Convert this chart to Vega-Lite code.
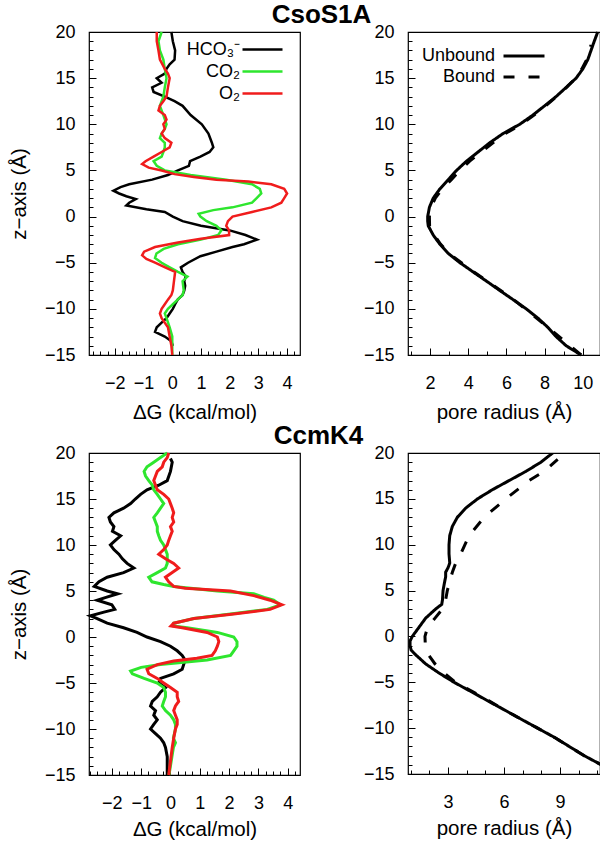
{
  "$schema": "https://vega.github.io/schema/vega-lite/v6.json",
  "background": "white",
  "padding": {"left": 8, "top": 1, "right": 0, "bottom": 0},
  "columns": 2,
  "spacing": {"row": 98, "column": 108},
  "bounds": "flush",
  "datasets": {
    "csoG": [
      {"s":"HCO₃⁻","z":-14,"g":0.02},{"s":"HCO₃⁻","z":-13.5,"g":-0.03},{"s":"HCO₃⁻","z":-13,"g":-0.26},{"s":"HCO₃⁻","z":-12.5,"g":-0.6},{"s":"HCO₃⁻","z":-12,"g":-0.54},{"s":"HCO₃⁻","z":-11.5,"g":-0.37},{"s":"HCO₃⁻","z":-11,"g":-0.2},{"s":"HCO₃⁻","z":-10.5,"g":-0.09},{"s":"HCO₃⁻","z":-10,"g":0.02},{"s":"HCO₃⁻","z":-9.5,"g":0.1},{"s":"HCO₃⁻","z":-9,"g":0.19},{"s":"HCO₃⁻","z":-8.5,"g":0.36},{"s":"HCO₃⁻","z":-8,"g":0.42},{"s":"HCO₃⁻","z":-7.5,"g":0.45},{"s":"HCO₃⁻","z":-7,"g":0.42},{"s":"HCO₃⁻","z":-6.5,"g":0.47},{"s":"HCO₃⁻","z":-6,"g":0.36},{"s":"HCO₃⁻","z":-5.5,"g":0.3},{"s":"HCO₃⁻","z":-5,"g":0.55},{"s":"HCO₃⁻","z":-4.3,"g":0.98},{"s":"HCO₃⁻","z":-3.8,"g":1.54},{"s":"HCO₃⁻","z":-3.3,"g":2.1},{"s":"HCO₃⁻","z":-3,"g":2.5},{"s":"HCO₃⁻","z":-2.5,"g":2.95},{"s":"HCO₃⁻","z":-2,"g":2.55},{"s":"HCO₃⁻","z":-1.5,"g":2.0},{"s":"HCO₃⁻","z":-1,"g":1.0},{"s":"HCO₃⁻","z":-0.5,"g":0.36},{"s":"HCO₃⁻","z":0,"g":0.02},{"s":"HCO₃⁻","z":0.5,"g":-0.26},{"s":"HCO₃⁻","z":0.8,"g":-0.9},{"s":"HCO₃⁻","z":1.2,"g":-1.6},{"s":"HCO₃⁻","z":1.5,"g":-1.5},{"s":"HCO₃⁻","z":1.9,"g":-1.27},{"s":"HCO₃⁻","z":2.2,"g":-1.6},{"s":"HCO₃⁻","z":2.5,"g":-1.85},{"s":"HCO₃⁻","z":2.8,"g":-2.05},{"s":"HCO₃⁻","z":3.2,"g":-1.8},{"s":"HCO₃⁻","z":3.5,"g":-1.5},{"s":"HCO₃⁻","z":4,"g":-0.7},{"s":"HCO₃⁻","z":4.5,"g":-0.15},{"s":"HCO₃⁻","z":5,"g":0.2},{"s":"HCO₃⁻","z":5.5,"g":0.58},{"s":"HCO₃⁻","z":6,"g":0.62},{"s":"HCO₃⁻","z":6.5,"g":0.98},{"s":"HCO₃⁻","z":7,"g":1.3},{"s":"HCO₃⁻","z":7.5,"g":1.43},{"s":"HCO₃⁻","z":8,"g":1.38},{"s":"HCO₃⁻","z":9,"g":1.26},{"s":"HCO₃⁻","z":10,"g":1.03},{"s":"HCO₃⁻","z":11,"g":0.64},{"s":"HCO₃⁻","z":12,"g":0.36},{"s":"HCO₃⁻","z":12.5,"g":0.08},{"s":"HCO₃⁻","z":13,"g":-0.26},{"s":"HCO₃⁻","z":13.5,"g":-0.65},{"s":"HCO₃⁻","z":14,"g":-0.7},{"s":"HCO₃⁻","z":14.5,"g":-0.37},{"s":"HCO₃⁻","z":15,"g":-0.54},{"s":"HCO₃⁻","z":15.5,"g":-0.26},{"s":"HCO₃⁻","z":16,"g":-0.2},{"s":"HCO₃⁻","z":16.5,"g":-0.09},{"s":"HCO₃⁻","z":17,"g":0.08},{"s":"HCO₃⁻","z":18,"g":0.1},{"s":"HCO₃⁻","z":19,"g":0.02},{"s":"HCO₃⁻","z":20,"g":-0.03},
      {"s":"CO₂","z":-15,"g":0},{"s":"CO₂","z":-14,"g":0},{"s":"CO₂","z":-13,"g":0},{"s":"CO₂","z":-12,"g":-0.09},{"s":"CO₂","z":-11,"g":-0.2},{"s":"CO₂","z":-10.5,"g":-0.26},{"s":"CO₂","z":-10,"g":-0.15},{"s":"CO₂","z":-9.5,"g":0.02},{"s":"CO₂","z":-9,"g":0.19},{"s":"CO₂","z":-8.5,"g":0.36},{"s":"CO₂","z":-8,"g":0.4},{"s":"CO₂","z":-7,"g":0.36},{"s":"CO₂","z":-6.5,"g":0.53},{"s":"CO₂","z":-6,"g":0.2},{"s":"CO₂","z":-5.5,"g":-0.09},{"s":"CO₂","z":-5,"g":-0.37},{"s":"CO₂","z":-4.5,"g":-0.6},{"s":"CO₂","z":-4,"g":-0.55},{"s":"CO₂","z":-3.5,"g":-0.3},{"s":"CO₂","z":-3,"g":0.2},{"s":"CO₂","z":-2.5,"g":1.0},{"s":"CO₂","z":-2,"g":1.6},{"s":"CO₂","z":-1.5,"g":1.71},{"s":"CO₂","z":-1,"g":1.54},{"s":"CO₂","z":-0.5,"g":1.2},{"s":"CO₂","z":0,"g":0.98},{"s":"CO₂","z":0.3,"g":0.92},{"s":"CO₂","z":0.7,"g":1.43},{"s":"CO₂","z":1,"g":2.1},{"s":"CO₂","z":1.5,"g":2.78},{"s":"CO₂","z":2,"g":2.94},{"s":"CO₂","z":2.5,"g":3.1},{"s":"CO₂","z":3,"g":3.05},{"s":"CO₂","z":3.5,"g":2.78},{"s":"CO₂","z":4,"g":1.88},{"s":"CO₂","z":4.5,"g":0.64},{"s":"CO₂","z":5,"g":-0.26},{"s":"CO₂","z":5.5,"g":-0.54},{"s":"CO₂","z":6,"g":-0.65},{"s":"CO₂","z":6.5,"g":-0.37},{"s":"CO₂","z":7,"g":-0.31},{"s":"CO₂","z":7.5,"g":-0.26},{"s":"CO₂","z":8,"g":-0.26},{"s":"CO₂","z":8.5,"g":-0.43},{"s":"CO₂","z":9,"g":-0.37},{"s":"CO₂","z":9.5,"g":-0.26},{"s":"CO₂","z":10,"g":-0.2},{"s":"CO₂","z":11,"g":-0.31},{"s":"CO₂","z":12,"g":-0.43},{"s":"CO₂","z":13,"g":-0.31},{"s":"CO₂","z":14,"g":-0.26},{"s":"CO₂","z":15,"g":-0.2},{"s":"CO₂","z":16,"g":-0.26},{"s":"CO₂","z":17,"g":-0.31},{"s":"CO₂","z":18,"g":-0.43},{"s":"CO₂","z":19,"g":-0.48},{"s":"CO₂","z":20,"g":-0.37},
      {"s":"O₂","z":-15,"g":0},{"s":"O₂","z":-14,"g":-0.03},{"s":"O₂","z":-13,"g":-0.09},{"s":"O₂","z":-12,"g":-0.15},{"s":"O₂","z":-11,"g":-0.37},{"s":"O₂","z":-10.5,"g":-0.43},{"s":"O₂","z":-10,"g":-0.37},{"s":"O₂","z":-9.5,"g":-0.26},{"s":"O₂","z":-9,"g":-0.15},{"s":"O₂","z":-8.5,"g":-0.03},{"s":"O₂","z":-8,"g":0.02},{"s":"O₂","z":-7,"g":0.06},{"s":"O₂","z":-6.5,"g":0.08},{"s":"O₂","z":-6,"g":0.1},{"s":"O₂","z":-5.5,"g":-0.25},{"s":"O₂","z":-5,"g":-0.6},{"s":"O₂","z":-4.6,"g":-0.9},{"s":"O₂","z":-4.2,"g":-1.05},{"s":"O₂","z":-3.8,"g":-0.98},{"s":"O₂","z":-3.3,"g":-0.6},{"s":"O₂","z":-2.8,"g":0.2},{"s":"O₂","z":-2.4,"g":1.0},{"s":"O₂","z":-2,"g":1.98},{"s":"O₂","z":-1.5,"g":1.98},{"s":"O₂","z":-1,"g":1.88},{"s":"O₂","z":-0.5,"g":1.94},{"s":"O₂","z":0,"g":2.1},{"s":"O₂","z":0.5,"g":2.78},{"s":"O₂","z":1,"g":3.45},{"s":"O₂","z":1.5,"g":3.8},{"s":"O₂","z":2,"g":3.9},{"s":"O₂","z":2.5,"g":4.0},{"s":"O₂","z":3,"g":3.9},{"s":"O₂","z":3.5,"g":3.45},{"s":"O₂","z":3.8,"g":2.65},{"s":"O₂","z":4,"g":1.54},{"s":"O₂","z":4.3,"g":0.75},{"s":"O₂","z":4.6,"g":0.08},{"s":"O₂","z":5,"g":-0.37},{"s":"O₂","z":5.3,"g":-0.82},{"s":"O₂","z":5.7,"g":-1.05},{"s":"O₂","z":6,"g":-0.93},{"s":"O₂","z":6.5,"g":-0.65},{"s":"O₂","z":7,"g":-0.37},{"s":"O₂","z":7.5,"g":-0.09},{"s":"O₂","z":8,"g":-0.03},{"s":"O₂","z":8.5,"g":-0.26},{"s":"O₂","z":9,"g":-0.37},{"s":"O₂","z":9.5,"g":-0.26},{"s":"O₂","z":10,"g":-0.31},{"s":"O₂","z":10.5,"g":-0.2},{"s":"O₂","z":11,"g":-0.26},{"s":"O₂","z":11.5,"g":-0.48},{"s":"O₂","z":12,"g":-0.43},{"s":"O₂","z":12.5,"g":-0.31},{"s":"O₂","z":13,"g":-0.2},{"s":"O₂","z":14,"g":-0.15},{"s":"O₂","z":15,"g":-0.09},{"s":"O₂","z":15.5,"g":-0.15},{"s":"O₂","z":16,"g":-0.26},{"s":"O₂","z":17,"g":-0.43},{"s":"O₂","z":18,"g":-0.48},{"s":"O₂","z":19,"g":-0.54},{"s":"O₂","z":20,"g":-0.54}
    ],
    "ccmG": [
      {"s":"HCO₃⁻","z":-15,"g":-0.11},{"s":"HCO₃⁻","z":-14,"g":-0.11},{"s":"HCO₃⁻","z":-13,"g":-0.11},{"s":"HCO₃⁻","z":-12,"g":-0.17},{"s":"HCO₃⁻","z":-11.5,"g":-0.23},{"s":"HCO₃⁻","z":-11,"g":-0.34},{"s":"HCO₃⁻","z":-10.5,"g":-0.51},{"s":"HCO₃⁻","z":-10,"g":-0.68},{"s":"HCO₃⁻","z":-9.5,"g":-0.57},{"s":"HCO₃⁻","z":-9,"g":-0.45},{"s":"HCO₃⁻","z":-8.5,"g":-0.57},{"s":"HCO₃⁻","z":-8,"g":-0.51},{"s":"HCO₃⁻","z":-7.5,"g":-0.68},{"s":"HCO₃⁻","z":-7,"g":-0.62},{"s":"HCO₃⁻","z":-6.5,"g":-0.45},{"s":"HCO₃⁻","z":-6,"g":-0.34},{"s":"HCO₃⁻","z":-5.5,"g":-0.17},{"s":"HCO₃⁻","z":-5,"g":-0.4},{"s":"HCO₃⁻","z":-4.5,"g":-0.34},{"s":"HCO₃⁻","z":-4,"g":0.11},{"s":"HCO₃⁻","z":-3.5,"g":0.4},{"s":"HCO₃⁻","z":-3,"g":0.45},{"s":"HCO₃⁻","z":-2.5,"g":0.5},{"s":"HCO₃⁻","z":-2,"g":0.4},{"s":"HCO₃⁻","z":-1.5,"g":0.23},{"s":"HCO₃⁻","z":-1,"g":0},{"s":"HCO₃⁻","z":-0.5,"g":-0.34},{"s":"HCO₃⁻","z":0,"g":-0.8},{"s":"HCO₃⁻","z":0.5,"g":-1.14},{"s":"HCO₃⁻","z":1,"g":-1.6},{"s":"HCO₃⁻","z":1.5,"g":-2.16},{"s":"HCO₃⁻","z":2,"g":-2.5},{"s":"HCO₃⁻","z":2.3,"g":-2.73},{"s":"HCO₃⁻","z":2.7,"g":-2.27},{"s":"HCO₃⁻","z":3,"g":-1.9},{"s":"HCO₃⁻","z":3.5,"g":-2.0},{"s":"HCO₃⁻","z":4,"g":-2.5},{"s":"HCO₃⁻","z":4.3,"g":-2.2},{"s":"HCO₃⁻","z":4.7,"g":-1.8},{"s":"HCO₃⁻","z":5,"g":-2.16},{"s":"HCO₃⁻","z":5.5,"g":-2.6},{"s":"HCO₃⁻","z":6,"g":-2.44},{"s":"HCO₃⁻","z":6.5,"g":-2.16},{"s":"HCO₃⁻","z":7,"g":-1.6},{"s":"HCO₃⁻","z":7.5,"g":-1.25},{"s":"HCO₃⁻","z":8,"g":-1.48},{"s":"HCO₃⁻","z":8.5,"g":-1.64},{"s":"HCO₃⁻","z":9,"g":-1.76},{"s":"HCO₃⁻","z":9.5,"g":-1.93},{"s":"HCO₃⁻","z":10,"g":-2.05},{"s":"HCO₃⁻","z":10.5,"g":-1.88},{"s":"HCO₃⁻","z":11,"g":-1.7},{"s":"HCO₃⁻","z":11.5,"g":-1.98},{"s":"HCO₃⁻","z":12,"g":-1.93},{"s":"HCO₃⁻","z":12.5,"g":-2.05},{"s":"HCO₃⁻","z":13,"g":-2.1},{"s":"HCO₃⁻","z":13.5,"g":-1.93},{"s":"HCO₃⁻","z":14,"g":-1.6},{"s":"HCO₃⁻","z":14.5,"g":-1.36},{"s":"HCO₃⁻","z":15,"g":-1.2},{"s":"HCO₃⁻","z":15.5,"g":-1.02},{"s":"HCO₃⁻","z":16,"g":-0.8},{"s":"HCO₃⁻","z":16.5,"g":-0.4},{"s":"HCO₃⁻","z":17,"g":-0.11},{"s":"HCO₃⁻","z":18,"g":0},{"s":"HCO₃⁻","z":19,"g":0.06},{"s":"HCO₃⁻","z":19.4,"g":0},
      {"s":"CO₂","z":-15,"g":-0.05},{"s":"CO₂","z":-14,"g":0},{"s":"CO₂","z":-13,"g":0.05},{"s":"CO₂","z":-12,"g":0.1},{"s":"CO₂","z":-11.5,"g":0.17},{"s":"CO₂","z":-11,"g":0.1},{"s":"CO₂","z":-10,"g":0.17},{"s":"CO₂","z":-9.5,"g":0.17},{"s":"CO₂","z":-9,"g":0.11},{"s":"CO₂","z":-8.5,"g":0},{"s":"CO₂","z":-8,"g":-0.17},{"s":"CO₂","z":-7.5,"g":-0.28},{"s":"CO₂","z":-7,"g":-0.23},{"s":"CO₂","z":-6.5,"g":-0.17},{"s":"CO₂","z":-6,"g":-0.17},{"s":"CO₂","z":-5.5,"g":-0.23},{"s":"CO₂","z":-5,"g":-0.45},{"s":"CO₂","z":-4.5,"g":-0.9},{"s":"CO₂","z":-4,"g":-1.3},{"s":"CO₂","z":-3.7,"g":-1.36},{"s":"CO₂","z":-3.3,"g":-1.0},{"s":"CO₂","z":-3,"g":-0.34},{"s":"CO₂","z":-2.5,"g":1.25},{"s":"CO₂","z":-2,"g":2.05},{"s":"CO₂","z":-1.5,"g":2.16},{"s":"CO₂","z":-1,"g":2.27},{"s":"CO₂","z":-0.5,"g":2.27},{"s":"CO₂","z":0,"g":2.16},{"s":"CO₂","z":0.5,"g":1.6},{"s":"CO₂","z":1,"g":0.57},{"s":"CO₂","z":1.2,"g":0.1},{"s":"CO₂","z":1.5,"g":0.11},{"s":"CO₂","z":2,"g":0.8},{"s":"CO₂","z":2.5,"g":2.05},{"s":"CO₂","z":3,"g":3.3},{"s":"CO₂","z":3.5,"g":3.75},{"s":"CO₂","z":4,"g":3.52},{"s":"CO₂","z":4.3,"g":3.2},{"s":"CO₂","z":4.7,"g":2.84},{"s":"CO₂","z":5,"g":1.6},{"s":"CO₂","z":5.5,"g":0.11},{"s":"CO₂","z":5.7,"g":-0.23},{"s":"CO₂","z":6,"g":-0.63},{"s":"CO₂","z":6.5,"g":-0.74},{"s":"CO₂","z":7,"g":-0.45},{"s":"CO₂","z":7.5,"g":-0.17},{"s":"CO₂","z":8,"g":-0.11},{"s":"CO₂","z":9,"g":-0.11},{"s":"CO₂","z":9.5,"g":-0.17},{"s":"CO₂","z":10,"g":-0.23},{"s":"CO₂","z":10.5,"g":-0.34},{"s":"CO₂","z":11,"g":-0.4},{"s":"CO₂","z":11.5,"g":-0.45},{"s":"CO₂","z":12,"g":-0.45},{"s":"CO₂","z":12.5,"g":-0.51},{"s":"CO₂","z":13,"g":-0.57},{"s":"CO₂","z":13.5,"g":-0.45},{"s":"CO₂","z":14,"g":-0.34},{"s":"CO₂","z":14.5,"g":-0.23},{"s":"CO₂","z":15,"g":-0.34},{"s":"CO₂","z":15.5,"g":-0.45},{"s":"CO₂","z":16,"g":-0.57},{"s":"CO₂","z":16.5,"g":-0.62},{"s":"CO₂","z":17,"g":-0.74},{"s":"CO₂","z":17.5,"g":-0.85},{"s":"CO₂","z":18,"g":-0.9},{"s":"CO₂","z":18.5,"g":-0.8},{"s":"CO₂","z":19,"g":-0.57},{"s":"CO₂","z":19.5,"g":-0.34},{"s":"CO₂","z":20,"g":-0.11},
      {"s":"O₂","z":-15,"g":-0.06},{"s":"O₂","z":-14,"g":-0.02},{"s":"O₂","z":-13,"g":0.02},{"s":"O₂","z":-12,"g":0.06},{"s":"O₂","z":-11,"g":0.11},{"s":"O₂","z":-10,"g":0.17},{"s":"O₂","z":-9.5,"g":0.23},{"s":"O₂","z":-9,"g":0.23},{"s":"O₂","z":-8.5,"g":0.17},{"s":"O₂","z":-8,"g":0.11},{"s":"O₂","z":-7.5,"g":0.17},{"s":"O₂","z":-7,"g":0.28},{"s":"O₂","z":-6.5,"g":0.23},{"s":"O₂","z":-6,"g":0.23},{"s":"O₂","z":-5.5,"g":0},{"s":"O₂","z":-5,"g":-0.23},{"s":"O₂","z":-4.5,"g":-0.45},{"s":"O₂","z":-4,"g":-0.74},{"s":"O₂","z":-3.5,"g":-0.8},{"s":"O₂","z":-3,"g":-0.45},{"s":"O₂","z":-2.6,"g":0.11},{"s":"O₂","z":-2.3,"g":0.9},{"s":"O₂","z":-2,"g":1.42},{"s":"O₂","z":-1.5,"g":1.53},{"s":"O₂","z":-1,"g":1.6},{"s":"O₂","z":-0.5,"g":1.65},{"s":"O₂","z":0,"g":1.6},{"s":"O₂","z":0.5,"g":1.25},{"s":"O₂","z":1,"g":0.4},{"s":"O₂","z":1.2,"g":0.02},{"s":"O₂","z":1.5,"g":0.11},{"s":"O₂","z":2,"g":0.8},{"s":"O₂","z":2.5,"g":2.16},{"s":"O₂","z":3,"g":3.4},{"s":"O₂","z":3.5,"g":3.8},{"s":"O₂","z":4,"g":3.4},{"s":"O₂","z":4.5,"g":2.84},{"s":"O₂","z":5,"g":2.05},{"s":"O₂","z":5.3,"g":0.5},{"s":"O₂","z":5.5,"g":0.11},{"s":"O₂","z":6,"g":-0.06},{"s":"O₂","z":6.5,"g":-0.17},{"s":"O₂","z":7,"g":0.06},{"s":"O₂","z":7.5,"g":0.28},{"s":"O₂","z":8,"g":0.11},{"s":"O₂","z":8.5,"g":-0.17},{"s":"O₂","z":9,"g":-0.4},{"s":"O₂","z":9.5,"g":-0.23},{"s":"O₂","z":10,"g":-0.11},{"s":"O₂","z":10.5,"g":-0.06},{"s":"O₂","z":11,"g":0},{"s":"O₂","z":11.5,"g":0.06},{"s":"O₂","z":12,"g":0},{"s":"O₂","z":12.5,"g":0.11},{"s":"O₂","z":13,"g":0.06},{"s":"O₂","z":13.5,"g":0.11},{"s":"O₂","z":14,"g":0.06},{"s":"O₂","z":14.5,"g":0},{"s":"O₂","z":15,"g":-0.06},{"s":"O₂","z":15.5,"g":-0.23},{"s":"O₂","z":16,"g":-0.45},{"s":"O₂","z":16.5,"g":-0.51},{"s":"O₂","z":17,"g":-0.57},{"s":"O₂","z":17.5,"g":-0.51},{"s":"O₂","z":18,"g":-0.45},{"s":"O₂","z":18.5,"g":-0.28},{"s":"O₂","z":19,"g":-0.23},{"s":"O₂","z":19.5,"g":-0.11},{"s":"O₂","z":20,"g":-0.06}
    ],
    "csoR": [
      {"st":"Unbound","z":-15,"r":9.91},{"st":"Unbound","z":-14,"r":9.13},{"st":"Unbound","z":-13,"r":8.6},{"st":"Unbound","z":-12,"r":8.17},{"st":"Unbound","z":-11,"r":7.65},{"st":"Unbound","z":-10,"r":7.04},{"st":"Unbound","z":-9,"r":6.35},{"st":"Unbound","z":-8,"r":5.65},{"st":"Unbound","z":-7,"r":4.96},{"st":"Unbound","z":-6,"r":4.26},{"st":"Unbound","z":-5,"r":3.57},{"st":"Unbound","z":-4,"r":2.96},{"st":"Unbound","z":-3,"r":2.52},{"st":"Unbound","z":-2,"r":2.17},{"st":"Unbound","z":-1,"r":1.91},{"st":"Unbound","z":-0.5,"r":1.88},{"st":"Unbound","z":0,"r":1.88},{"st":"Unbound","z":1,"r":1.97},{"st":"Unbound","z":2,"r":2.17},{"st":"Unbound","z":3,"r":2.52},{"st":"Unbound","z":4,"r":2.96},{"st":"Unbound","z":5,"r":3.39},{"st":"Unbound","z":6,"r":3.91},{"st":"Unbound","z":7,"r":4.52},{"st":"Unbound","z":8,"r":5.13},{"st":"Unbound","z":9,"r":5.83},{"st":"Unbound","z":10,"r":6.7},{"st":"Unbound","z":11,"r":7.39},{"st":"Unbound","z":12,"r":8.0},{"st":"Unbound","z":13,"r":8.6},{"st":"Unbound","z":14,"r":9.13},{"st":"Unbound","z":15,"r":9.65},{"st":"Unbound","z":16,"r":10.0},{"st":"Unbound","z":17,"r":10.26},{"st":"Unbound","z":18,"r":10.43},{"st":"Unbound","z":19,"r":10.6},{"st":"Unbound","z":20,"r":10.78},
      {"st":"Bound","z":-15,"r":9.91},{"st":"Bound","z":-12,"r":8.17},{"st":"Bound","z":-9,"r":6.38},{"st":"Bound","z":-6,"r":4.3},{"st":"Bound","z":-4,"r":3.0},{"st":"Bound","z":-3,"r":2.56},{"st":"Bound","z":-2,"r":2.22},{"st":"Bound","z":-1,"r":1.98},{"st":"Bound","z":0,"r":1.97},{"st":"Bound","z":1,"r":2.06},{"st":"Bound","z":2,"r":2.28},{"st":"Bound","z":3,"r":2.65},{"st":"Bound","z":4,"r":3.12},{"st":"Bound","z":5,"r":3.56},{"st":"Bound","z":6,"r":4.08},{"st":"Bound","z":7,"r":4.68},{"st":"Bound","z":8,"r":5.3},{"st":"Bound","z":9,"r":5.95},{"st":"Bound","z":10,"r":6.78},{"st":"Bound","z":11,"r":7.45},{"st":"Bound","z":12,"r":8.05},{"st":"Bound","z":13,"r":8.63},{"st":"Bound","z":14,"r":9.15},{"st":"Bound","z":15,"r":9.62},{"st":"Bound","z":16,"r":9.95},{"st":"Bound","z":17,"r":10.2},{"st":"Bound","z":18,"r":10.35},{"st":"Bound","z":18.6,"r":10.43}
    ],
    "ccmR": [
      {"st":"Unbound","z":-14.3,"r":11.5},{"st":"Unbound","z":-13,"r":10.3},{"st":"Unbound","z":-12,"r":9.5},{"st":"Unbound","z":-11,"r":8.7},{"st":"Unbound","z":-10,"r":7.8},{"st":"Unbound","z":-9,"r":6.9},{"st":"Unbound","z":-8,"r":6.01},{"st":"Unbound","z":-7,"r":5.11},{"st":"Unbound","z":-6,"r":4.22},{"st":"Unbound","z":-5,"r":3.32},{"st":"Unbound","z":-4,"r":2.52},{"st":"Unbound","z":-3,"r":1.8},{"st":"Unbound","z":-2,"r":1.26},{"st":"Unbound","z":-1.5,"r":1.02},{"st":"Unbound","z":-1,"r":0.96},{"st":"Unbound","z":-0.5,"r":0.96},{"st":"Unbound","z":0,"r":1.08},{"st":"Unbound","z":1,"r":1.44},{"st":"Unbound","z":2,"r":1.8},{"st":"Unbound","z":3,"r":2.34},{"st":"Unbound","z":3.5,"r":2.66},{"st":"Unbound","z":4,"r":2.7},{"st":"Unbound","z":5,"r":2.73},{"st":"Unbound","z":6,"r":2.82},{"st":"Unbound","z":6.5,"r":2.87},{"st":"Unbound","z":7,"r":2.87},{"st":"Unbound","z":7.5,"r":3.0},{"st":"Unbound","z":8,"r":3.09},{"st":"Unbound","z":9,"r":3.05},{"st":"Unbound","z":10,"r":3.05},{"st":"Unbound","z":11,"r":3.09},{"st":"Unbound","z":12,"r":3.23},{"st":"Unbound","z":13,"r":3.5},{"st":"Unbound","z":14,"r":3.95},{"st":"Unbound","z":15,"r":4.58},{"st":"Unbound","z":16,"r":5.38},{"st":"Unbound","z":17,"r":6.28},{"st":"Unbound","z":18,"r":7.18},{"st":"Unbound","z":19,"r":7.98},{"st":"Unbound","z":20,"r":8.61},
      {"st":"Bound","z":-14.3,"r":11.5},{"st":"Bound","z":-13,"r":10.3},{"st":"Bound","z":-12,"r":9.5},{"st":"Bound","z":-11,"r":8.7},{"st":"Bound","z":-10,"r":7.8},{"st":"Bound","z":-9,"r":6.9},{"st":"Bound","z":-8,"r":6.01},{"st":"Bound","z":-7,"r":5.17},{"st":"Bound","z":-6,"r":4.31},{"st":"Bound","z":-5,"r":3.4},{"st":"Bound","z":-4,"r":2.8},{"st":"Bound","z":-3,"r":2.3},{"st":"Bound","z":-2,"r":1.95},{"st":"Bound","z":-1,"r":1.78},{"st":"Bound","z":0,"r":1.76},{"st":"Bound","z":1,"r":1.9},{"st":"Bound","z":2,"r":2.3},{"st":"Bound","z":3,"r":2.7},{"st":"Bound","z":4,"r":2.87},{"st":"Bound","z":5,"r":2.96},{"st":"Bound","z":6,"r":3.09},{"st":"Bound","z":7,"r":3.23},{"st":"Bound","z":8,"r":3.41},{"st":"Bound","z":9,"r":3.68},{"st":"Bound","z":11,"r":4.13},{"st":"Bound","z":13,"r":4.94},{"st":"Bound","z":15,"r":6.1},{"st":"Bound","z":17,"r":7.35},{"st":"Bound","z":18,"r":8.16},{"st":"Bound","z":19.3,"r":8.88}
    ]
  },
  "concat": [
    {
      "width": 211, "height": 323,
      "title": {"text": "CsoS1A", "dx": 127, "offset": -5},
      "data": {"name": "csoG"},
      "layer": [
        {
          "mark": {"type": "line", "strokeWidth": 2.5},
          "encoding": {
            "x": {"field": "g", "type": "quantitative", "scale": {"domain": [-2.9, 4.45], "nice": false, "zero": false},
                  "axis": {"values": [-2,-1,0,1,2,3,4], "tickSize": -7, "labelPadding": 26, "labelFlush": false, "labelOverlap": false, "title": "ΔG (kcal/mol)", "titlePadding": 10}},
            "y": {"field": "z", "type": "quantitative", "scale": {"domain": [-15, 20], "nice": false, "zero": false},
                  "axis": {"values": [-15,-10,-5,0,5,10,15,20], "tickSize": -7, "labelPadding": 21, "labelFlush": false, "labelOverlap": false, "title": "z−axis (Å)", "titlePadding": 15}},
            "order": {"field": "z", "type": "quantitative"},
            "color": {"field": "s", "type": "nominal", "scale": {"domain": ["HCO₃⁻", "CO₂", "O₂"], "range": ["#000000", "#2ee62e", "#f01c1c"]},
                      "legend": {"orient": "none", "legendX": 162, "legendY": 6, "title": null, "symbolType": "M-2,0H2", "symbolSize": 400, "symbolStrokeWidth": 2.5, "labelAlign": "right", "labelOffset": -34, "labelFontSize": 18, "labelColor": "black", "labelLimit": 0, "rowPadding": 1, "padding": 0}}
          }
        },
        {
          "mark": {"type": "line", "strokeOpacity": 0},
          "encoding": {
            "x": {"field": "g", "type": "quantitative", "scale": {"domain": [-2.9, 4.45], "nice": false, "zero": false},
                  "axis": {"orient": "bottom", "values": [-2.75,-2.5,-2.25,-1.75,-1.5,-1.25,-0.75,-0.5,-0.25,0.25,0.5,0.75,1.25,1.5,1.75,2.25,2.5,2.75,3.25,3.5,3.75,4.25], "tickSize": -4, "labels": false, "title": null}},
            "y": {"field": "z", "type": "quantitative", "scale": {"domain": [-15, 20], "nice": false, "zero": false},
                  "axis": {"orient": "left", "values": [-14,-13,-12,-11,-9,-8,-7,-6,-4,-3,-2,-1,1,2,3,4,6,7,8,9,11,12,13,14,16,17,18,19], "tickSize": -4, "labels": false, "title": null}},
            "detail": {"field": "s"},
            "order": {"field": "z", "type": "quantitative"}
          }
        }
      ],
      "resolve": {"axis": {"x": "independent", "y": "independent"}}
    },
    {
      "width": 192, "height": 323,
      "data": {"name": "csoR"},
      "layer": [
        {
          "mark": {"type": "line", "strokeWidth": 3, "color": "black"},
          "encoding": {
            "x": {"field": "r", "type": "quantitative", "scale": {"domain": [0.85, 10.9], "nice": false, "zero": false},
                  "axis": {"values": [2,4,6,8,10], "tickSize": -7, "labelPadding": 26, "labelFlush": false, "labelOverlap": false, "title": "pore radius (Å)", "titlePadding": 10}},
            "y": {"field": "z", "type": "quantitative", "scale": {"domain": [-15, 20], "nice": false, "zero": false},
                  "axis": {"values": [-15,-10,-5,0,5,10,15,20], "tickSize": -7, "labelPadding": 21, "labelFlush": false, "labelOverlap": false, "title": null}},
            "order": {"field": "z", "type": "quantitative"},
            "strokeDash": {"field": "st", "type": "nominal", "scale": {"domain": ["Unbound", "Bound"], "range": [[1, 0], [11, 14]]},
                           "legend": {"orient": "none", "legendX": 104, "legendY": 12, "title": null, "symbolType": "M-2,0H2", "symbolSize": 420, "symbolStrokeWidth": 3, "symbolStrokeColor": "black", "labelAlign": "right", "labelOffset": -41, "labelFontSize": 18, "labelColor": "black", "labelLimit": 0, "rowPadding": -2, "padding": 0}}
          }
        },
        {
          "mark": {"type": "line", "strokeOpacity": 0},
          "encoding": {
            "x": {"field": "r", "type": "quantitative", "scale": {"domain": [0.85, 10.9], "nice": false, "zero": false},
                  "axis": {"orient": "bottom", "values": [1,3,5,7,9], "tickSize": -4, "labels": false, "title": null}},
            "y": {"field": "z", "type": "quantitative", "scale": {"domain": [-15, 20], "nice": false, "zero": false},
                  "axis": {"orient": "left", "values": [-14,-13,-12,-11,-9,-8,-7,-6,-4,-3,-2,-1,1,2,3,4,6,7,8,9,11,12,13,14,16,17,18,19], "tickSize": -4, "labels": false, "title": null}},
            "detail": {"field": "st"},
            "order": {"field": "z", "type": "quantitative"}
          }
        }
      ],
      "resolve": {"axis": {"x": "independent", "y": "independent"}}
    },
    {
      "width": 211, "height": 322,
      "title": {"text": "CcmK4", "dx": 124, "offset": -5},
      "data": {"name": "ccmG"},
      "layer": [
        {
          "mark": {"type": "line", "strokeWidth": 3},
          "encoding": {
            "x": {"field": "g", "type": "quantitative", "scale": {"domain": [-2.78, 4.42], "nice": false, "zero": false},
                  "axis": {"values": [-2,-1,0,1,2,3,4], "tickSize": -7, "labelPadding": 26, "labelFlush": false, "labelOverlap": false, "title": "ΔG (kcal/mol)", "titlePadding": 7}},
            "y": {"field": "z", "type": "quantitative", "scale": {"domain": [-15, 20], "nice": false, "zero": false},
                  "axis": {"values": [-15,-10,-5,0,5,10,15,20], "tickSize": -7, "labelPadding": 21, "labelFlush": false, "labelOverlap": false, "title": "z−axis (Å)", "titlePadding": 15}},
            "order": {"field": "z", "type": "quantitative"},
            "color": {"field": "s", "type": "nominal", "scale": {"domain": ["HCO₃⁻", "CO₂", "O₂"], "range": ["#000000", "#2ee62e", "#f01c1c"]}, "legend": null}
          }
        },
        {
          "mark": {"type": "line", "strokeOpacity": 0},
          "encoding": {
            "x": {"field": "g", "type": "quantitative", "scale": {"domain": [-2.78, 4.42], "nice": false, "zero": false},
                  "axis": {"orient": "bottom", "values": [-2.75,-2.5,-2.25,-1.75,-1.5,-1.25,-0.75,-0.5,-0.25,0.25,0.5,0.75,1.25,1.5,1.75,2.25,2.5,2.75,3.25,3.5,3.75,4.25], "tickSize": -4, "labels": false, "title": null}},
            "y": {"field": "z", "type": "quantitative", "scale": {"domain": [-15, 20], "nice": false, "zero": false},
                  "axis": {"orient": "left", "values": [-14,-13,-12,-11,-9,-8,-7,-6,-4,-3,-2,-1,1,2,3,4,6,7,8,9,11,12,13,14,16,17,18,19], "tickSize": -4, "labels": false, "title": null}},
            "detail": {"field": "s"},
            "order": {"field": "z", "type": "quantitative"}
          }
        }
      ],
      "resolve": {"axis": {"x": "independent", "y": "independent"}}
    },
    {
      "width": 192, "height": 321,
      "data": {"name": "ccmR"},
      "layer": [
        {
          "mark": {"type": "line", "strokeWidth": 3, "color": "black", "clip": true},
          "encoding": {
            "x": {"field": "r", "type": "quantitative", "scale": {"domain": [0.85, 11.15], "nice": false, "zero": false},
                  "axis": {"values": [3,6,9], "tickSize": -7, "labelPadding": 26, "labelFlush": false, "labelOverlap": false, "title": "pore radius (Å)", "titlePadding": 7}},
            "y": {"field": "z", "type": "quantitative", "scale": {"domain": [-15, 20], "nice": false, "zero": false},
                  "axis": {"values": [-15,-10,-5,0,5,10,15,20], "tickSize": -7, "labelPadding": 21, "labelFlush": false, "labelOverlap": false, "title": null}},
            "order": {"field": "z", "type": "quantitative"},
            "strokeDash": {"field": "st", "type": "nominal", "scale": {"domain": ["Unbound", "Bound"], "range": [[1, 0], [11, 14]]}, "legend": null}
          }
        },
        {
          "mark": {"type": "line", "strokeOpacity": 0, "clip": true},
          "encoding": {
            "x": {"field": "r", "type": "quantitative", "scale": {"domain": [0.85, 11.15], "nice": false, "zero": false},
                  "axis": {"orient": "bottom", "values": [1,2,4,5,7,8,10,11], "tickSize": -4, "labels": false, "title": null}},
            "y": {"field": "z", "type": "quantitative", "scale": {"domain": [-15, 20], "nice": false, "zero": false},
                  "axis": {"orient": "left", "values": [-14,-13,-12,-11,-9,-8,-7,-6,-4,-3,-2,-1,1,2,3,4,6,7,8,9,11,12,13,14,16,17,18,19], "tickSize": -4, "labels": false, "title": null}},
            "detail": {"field": "st"},
            "order": {"field": "z", "type": "quantitative"}
          }
        }
      ],
      "resolve": {"axis": {"x": "independent", "y": "independent"}}
    }
  ],
  "resolve": {"scale": {"color": "independent", "strokeDash": "independent", "x": "independent", "y": "independent"}, "legend": {"color": "independent", "strokeDash": "independent"}},
  "config": {
    "font": "Liberation Sans",
    "view": {"stroke": "black", "strokeWidth": 1.2},
    "axis": {"domain": false, "grid": false, "labelFont": "Liberation Sans", "labelFontSize": 18, "labelColor": "black", "tickColor": "black", "tickWidth": 1, "titleFont": "Liberation Sans", "titleFontSize": 20.5, "titleFontWeight": "normal", "titleColor": "black"},
    "legend": {"labelFont": "Liberation Sans"},
    "title": {"font": "Liberation Sans", "fontSize": 26, "fontWeight": "bold", "color": "black", "anchor": "middle"}
  }
}
